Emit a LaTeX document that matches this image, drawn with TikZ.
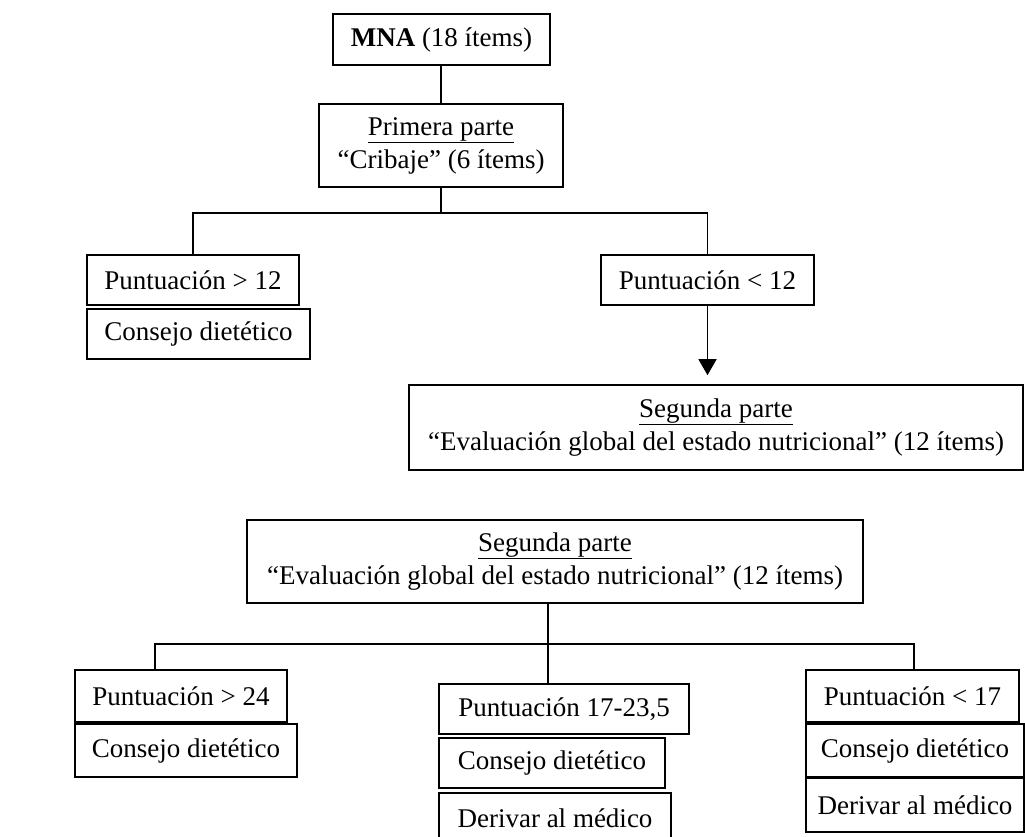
\documentclass[tikz,border=0pt]{standalone}
\usepackage{fontspec}
\setmainfont{Liberation Serif}
\usetikzlibrary{arrows.meta}
\begin{document}
\begin{tikzpicture}[x=1pt,y=-1pt,
  bx/.style={draw, line width=1.6pt, inner sep=0pt, align=center,
    font=\fontsize{27}{33}\selectfont},
  wire/.style={line width=1.4pt}]
\useasboundingbox (0,0) rectangle (1025,836);
% top part
\node[bx, minimum width=217, minimum height=51] (mna) at (441.5,39.5) {\textbf{MNA} (18 ítems)};
\node[bx, minimum width=244, minimum height=83] (prim) at (441,145.5) {\underline{Primera parte}\\“Cribaje” (6 ítems)};
\node[bx, minimum width=212, minimum height=50] (p12a) at (193,280) {Puntuación > 12};
\node[bx, minimum width=223, minimum height=50] (cd1) at (198.5,334) {Consejo dietético};
\node[bx, minimum width=213, minimum height=50] (p12b) at (707.5,280) {Puntuación < 12};
\node[bx, minimum width=614, minimum height=85] (seg1) at (716,427.5) {\underline{Segunda parte}\\“Evaluación global del estado nutricional” (12 ítems)};
\coordinate (j1) at (441,213);
\draw[wire] (mna.south) -- (prim.south |- mna.south) -- (prim.north);
\draw[wire] (prim.south) -- (j1);
\draw[wire] (p12a.north) |- (j1) -| (p12b.north);
\draw[wire, -{Triangle[width=18pt,length=16pt]}, shorten >=9pt] (p12b.south) -- (p12b.south |- seg1.north);
% bottom part
\node[bx, minimum width=616, minimum height=83] (seg2) at (555,561.5) {\underline{Segunda parte}\\“Evaluación global del estado nutricional” (12 ítems)};
\node[bx, minimum width=212, minimum height=52] (p24) at (181,696) {Puntuación > 24};
\node[bx, minimum width=222, minimum height=53] (cd2) at (186,750.5) {Consejo dietético};
\node[bx, minimum width=250, minimum height=50] (p17) at (564,709) {Puntuación 17-23,5};
\node[bx, minimum width=226, minimum height=50] (cd3) at (552,763) {Consejo dietético};
\node[bx, minimum width=232, minimum height=50] (dm3) at (555,818) {Derivar al médico};
\node[bx, minimum width=213, minimum height=52] (p17b) at (912.5,696) {Puntuación < 17};
\node[bx, minimum width=218, minimum height=53] (cd4) at (915,750.5) {Consejo dietético};
\node[bx, minimum width=218, minimum height=54] (dm4) at (915,805) {Derivar al médico};
\coordinate (j2) at (548,644);
\coordinate (jl) at (155,644);
\coordinate (jr) at (914,644);
\draw[wire] (seg2.south -| j2) -- (j2) -- (j2 |- p17.north);
\draw[wire] (jl |- p24.north) -- (jl) -- (jr) -- (jr |- p17b.north);
\end{tikzpicture}
\end{document}
